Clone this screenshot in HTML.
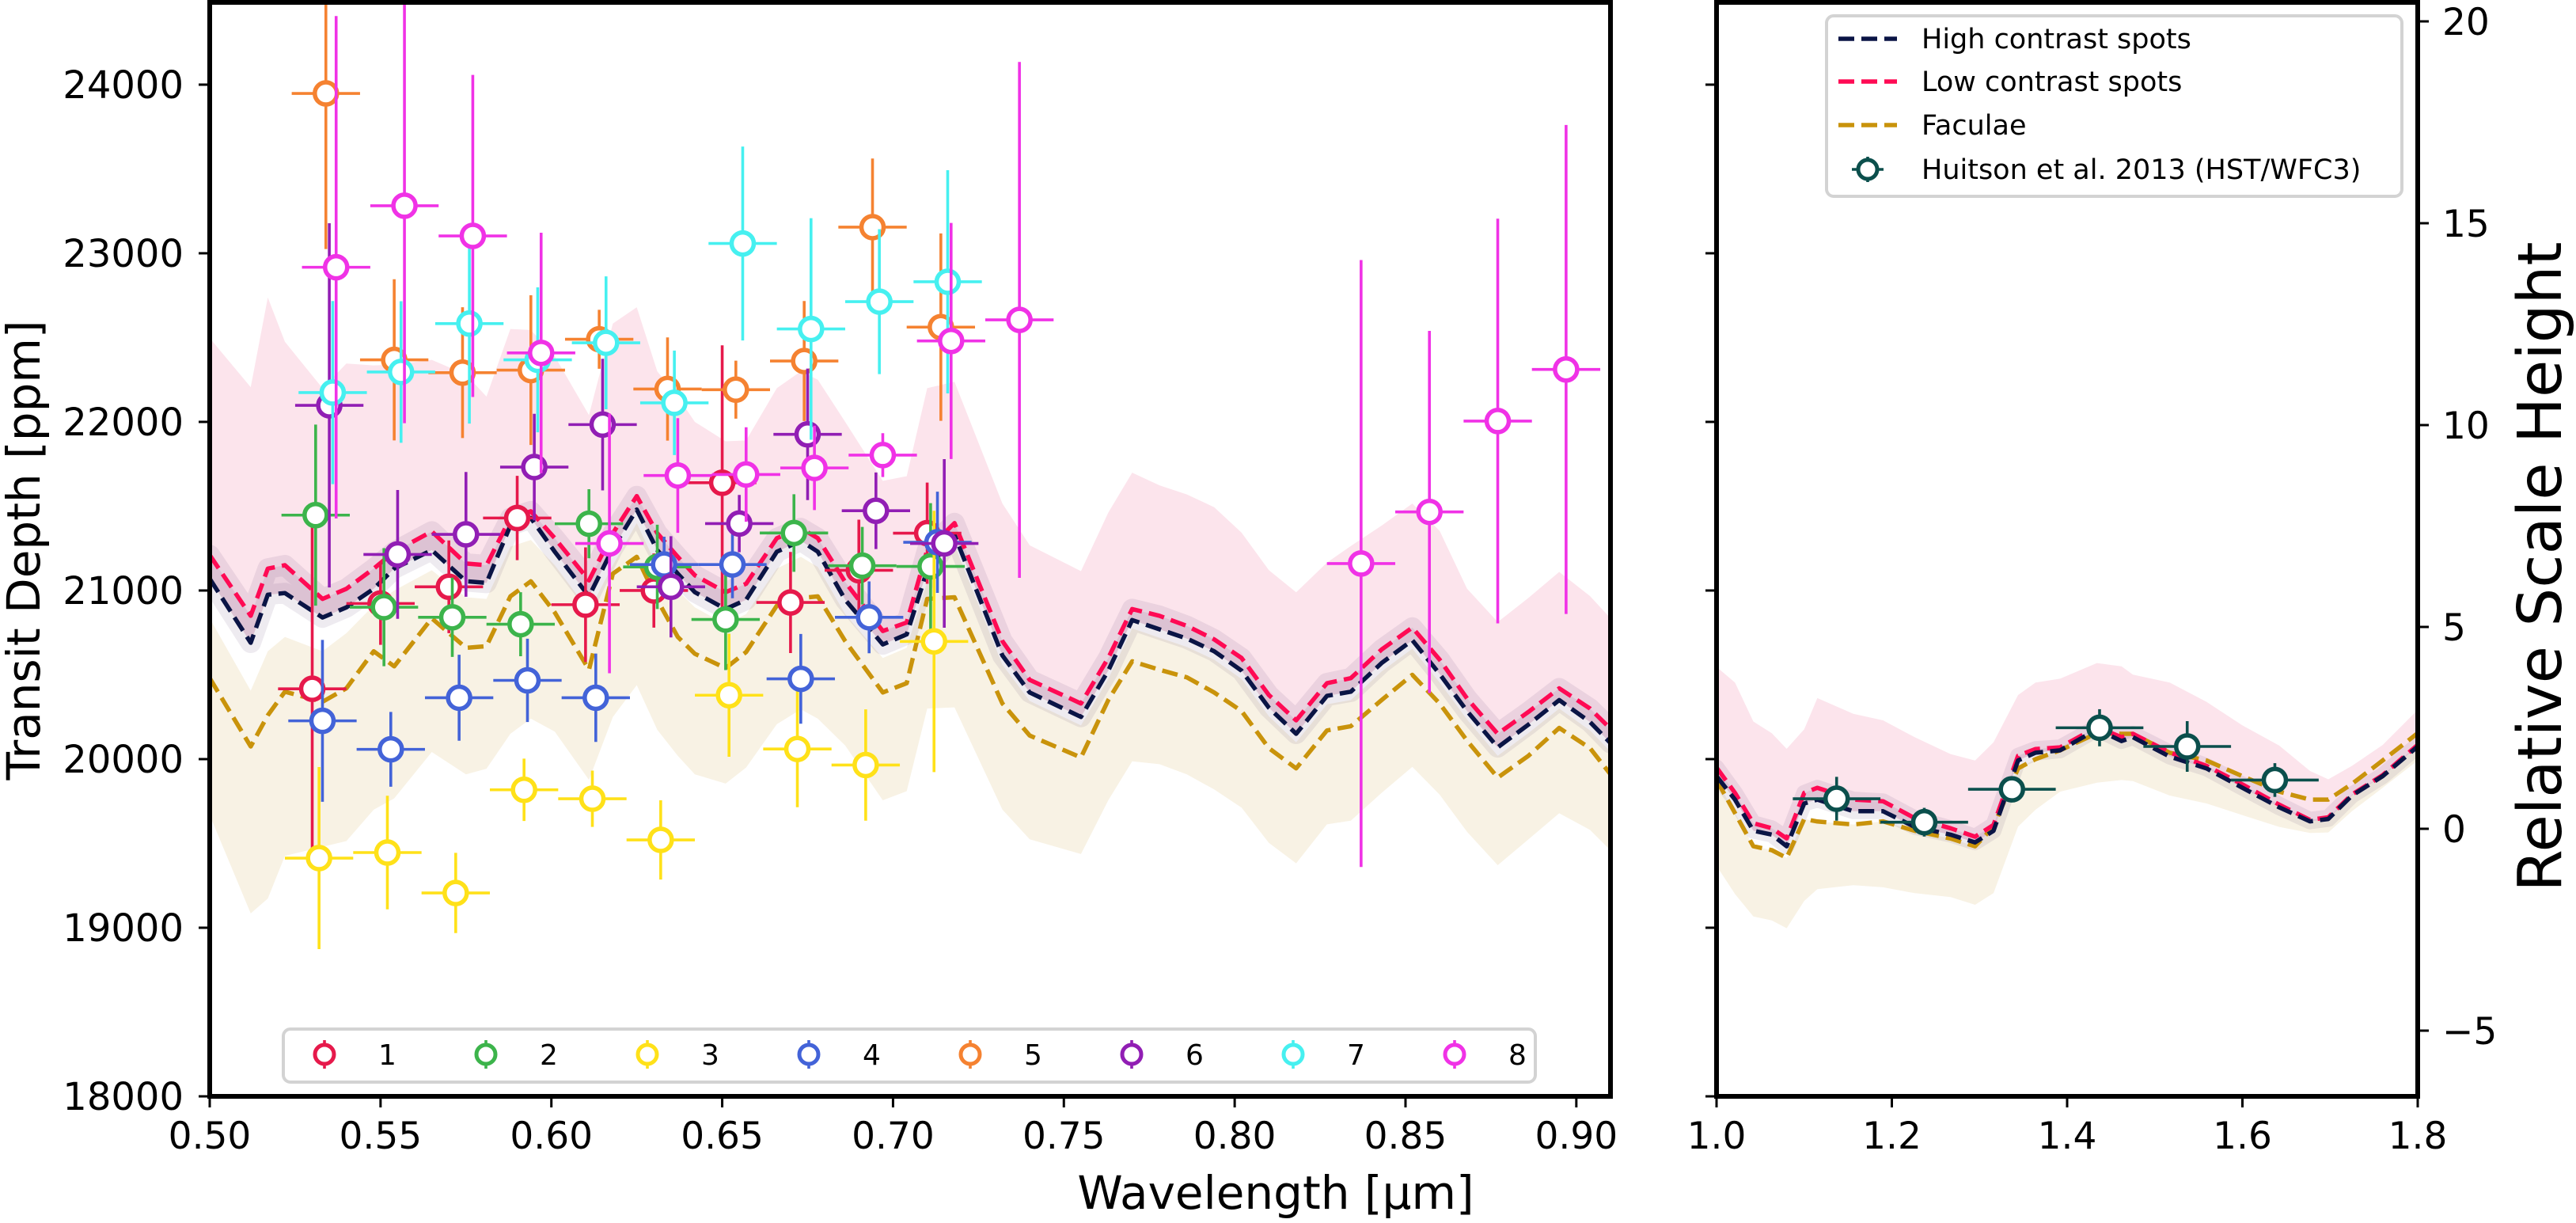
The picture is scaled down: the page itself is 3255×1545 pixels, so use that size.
<!DOCTYPE html>
<html><head><meta charset="utf-8"><style>
html,body{margin:0;padding:0;background:#fff}
svg{display:block}
text{font-family:"DejaVu Sans","Liberation Sans",sans-serif;fill:#000}
</style></head><body>
<svg id="fig" width="3255" height="1545" viewBox="0 0 3255 1545" xmlns="http://www.w3.org/2000/svg">
<defs>
<clipPath id="clipL"><rect x="265" y="3" width="1770" height="1382"/></clipPath>
<clipPath id="clipR"><rect x="2169" y="3" width="886" height="1382"/></clipPath>
</defs>
<rect x="0" y="0" width="3255" height="1545" fill="#fff"/>
<g id="left-plot" clip-path="url(#clipL)"></g>
<g id="right-plot" clip-path="url(#clipR)"></g>
<g id="axes"></g>
</svg>
<script>
// ---- left panel model grid & values (ppm) ----
const lamL=[0.500,0.512,0.517,0.522,0.533,0.540,0.548,0.554,0.565,0.575,0.581,0.588,0.594,0.601,0.611,0.618,0.625,0.631,0.637,0.642,0.651,0.657,0.666,0.673,0.678,0.686,0.697,0.704,0.710,0.718,0.732,0.740,0.755,0.763,0.770,0.778,0.786,0.794,0.802,0.810,0.818,0.827,0.834,0.843,0.852,0.860,0.868,0.877,0.886,0.895,0.904,0.910];
const highL=[21070,20690,20975,20985,20840,20900,21010,21130,21240,21055,21045,21385,21430,21230,20965,21250,21480,21240,21100,20990,20890,20945,21230,21295,21230,20945,20680,20740,21120,21330,20615,20395,20250,20525,20825,20770,20715,20640,20525,20305,20150,20375,20400,20570,20705,20505,20285,20070,20205,20350,20220,20095];
const lowL=[21210,20850,21130,21150,20950,21010,21130,21230,21350,21160,21150,21430,21470,21310,21060,21340,21560,21340,21200,21090,20990,21040,21310,21370,21310,21050,20760,20810,21240,21400,20700,20470,20330,20600,20890,20850,20790,20710,20600,20380,20230,20450,20480,20650,20780,20590,20360,20150,20280,20420,20300,20180];
const facL=[20480,20075,20260,20400,20340,20420,20640,20550,20835,20660,20670,20965,21055,20870,20530,21100,21200,20945,20725,20625,20540,20635,20910,20955,20965,20700,20395,20450,20950,20960,20330,20140,20010,20350,20580,20530,20485,20395,20285,20065,19945,20170,20195,20350,20500,20330,20110,19890,20020,20185,20065,19910];
const pinkHiL=[22497,22206,22738,22475,22200,22346,22335,22340,22368,22281,22150,22551,22545,22389,22040,22583,22680,22300,22150,22000,21885,21890,22200,22300,22250,22000,21650,21678,22200,22238,21516,21268,21115,21462,21699,21624,21570,21494,21343,21121,20989,21165,21264,21385,21516,21354,21011,20813,20956,21110,20967,20835];
const beigeHiL=[20835,20406,20640,20725,20640,20747,20912,21000,21120,20960,20950,21260,21300,21150,20879,21150,21400,21140,21000,20900,20800,20860,21130,21200,21140,20860,20600,20660,21050,21270,20560,20345,20200,20475,20775,20720,20665,20590,20475,20255,20100,20325,20350,20520,20655,20455,20235,20020,20155,20300,20170,20045];
const beigeLoL=[19668,19085,19173,19426,19480,19514,19700,19767,20042,19910,19943,20150,20240,20163,19877,20250,20439,20174,20020,19910,19855,19950,20207,20295,20240,20080,19756,19810,20300,20307,19701,19525,19437,19756,19987,19970,19910,19820,19712,19503,19382,19613,19635,19800,19954,19789,19569,19371,19525,19679,19580,19459];
// ---- right panel model grid & values (ppm) ----
const lamR=[1.000,1.021,1.042,1.063,1.080,1.100,1.115,1.156,1.190,1.226,1.267,1.295,1.316,1.344,1.364,1.392,1.434,1.462,1.475,1.517,1.559,1.600,1.642,1.677,1.698,1.725,1.760,1.800];
const highR=[19899,19760,19575,19552,19483,19737,19760,19691,19691,19598,19552,19506,19575,19992,20038,20052,20177,20107,20130,20015,19945,19830,19714,19631,19645,19784,19899,20075];
const lowR=[19950,19800,19620,19590,19530,19800,19830,19760,19750,19650,19590,19540,19610,20020,20060,20070,20190,20130,20150,20040,19960,19850,19730,19640,19655,19790,19905,20085];
const facR=[19876,19680,19483,19460,19414,19645,19630,19612,19631,19575,19529,19483,19599,19945,20000,20052,20154,20150,20150,20038,19992,19899,19807,19760,19760,19853,19992,20154];
const pinkHiR=[20547,20454,20223,20154,20061,20177,20362,20269,20230,20130,20030,19992,20100,20380,20454,20477,20570,20550,20501,20454,20340,20200,20080,19930,19880,19960,20084,20292];
const beigeLoR=[19367,19200,19067,19043,18997,19159,19229,19252,19240,19205,19182,19136,19205,19600,19700,19807,19860,19876,19870,19784,19737,19668,19598,19562,19565,19691,19830,19992];
// ---- observed data ----
const s1Lam=[0.530,0.550,0.570,0.590,0.610,0.630,0.650,0.670,0.690,0.710];
const s1Depth=[20417,20923,21022,21430,20916,21000,21639,20929,21120,21340];
const s1Err=[960,245,275,250,340,220,815,300,300,300];
const s2Lam=[0.531,0.551,0.571,0.591,0.611,0.631,0.651,0.671,0.691,0.711];
const s2Depth=[21447,20901,20841,20800,21396,21140,20828,21341,21147,21143];
const s2Err=[537,350,235,190,205,250,300,230,230,375];
const s3Lam=[0.532,0.552,0.572,0.592,0.612,0.632,0.652,0.672,0.692,0.712];
const s3Depth=[19413,19446,19206,19818,19765,19521,20379,20060,19965,20698];
const s3Err=[540,337,238,185,167,235,365,345,330,775];
const s4Lam=[0.533,0.553,0.573,0.593,0.613,0.633,0.653,0.673,0.693,0.713];
const s4Depth=[20227,20058,20364,20467,20364,21154,21154,20476,20841,21286];
const s4Err=[480,222,255,247,262,165,200,266,213,300];
const s5Lam=[0.534,0.554,0.574,0.594,0.614,0.634,0.654,0.674,0.694,0.714];
const s5Depth=[23948,22368,22292,22307,22490,22195,22191,22361,23155,22562];
const s5Err=[923,478,388,444,175,306,172,356,407,556];
const s6Lam=[0.535,0.555,0.575,0.595,0.615,0.635,0.655,0.675,0.695,0.715];
const s6Depth=[22098,21214,21333,21732,21984,21022,21397,21926,21473,21279];
const s6Err=[1080,382,370,316,390,300,170,390,227,500];
const s7Lam=[0.536,0.556,0.576,0.596,0.616,0.636,0.656,0.676,0.696,0.716];
const s7Depth=[22174,22296,22583,22368,22469,22113,23058,22551,22713,22831];
const s7Err=[543,420,593,430,394,310,575,657,430,662];
const s8Lam=[0.537,0.557,0.577,0.597,0.617,0.637,0.657,0.677,0.697,0.717,0.737,0.837,0.857,0.877,0.897];
const s8Depth=[22917,23282,23103,22409,21279,21682,21688,21727,21803,22480,22605,21160,21466,22005,22311];
const s8Err=[1490,1290,955,713,770,340,280,250,130,700,1530,1800,1074,1200,1450];
const hLam=[1.137,1.237,1.337,1.437,1.537,1.637];
const hDepth=[19765,19626,19821,20186,20075,19876];
const hErr=[130,85,60,110,150,100];
// ---- ticks ----
const yTicks=[18000,19000,20000,21000,22000,23000,24000];
const xTicksL=[0.50,0.55,0.60,0.65,0.70,0.75,0.80,0.85,0.90];
const xTickLabelsL=["0.50","0.55","0.60","0.65","0.70","0.75","0.80","0.85","0.90"];
const xTicksR=[1.0,1.2,1.4,1.6,1.8];
const xTickLabelsR=["1.0","1.2","1.4","1.6","1.8"];
const shTicks=[-5,0,5,10,15,20];
const shTickLabels=["\u22125","0","5","10","15","20"];

const NS="http://www.w3.org/2000/svg";
const yTop=3,yBot=1385,yMin=18000,yMax=24488;
function yPx(v){return yBot-(v-yMin)/(yMax-yMin)*(yBot-yTop);}
const L0=265,L1=2035,lamMinL=0.5,lamMaxL=0.91;
function xL(l){return L0+(l-lamMinL)/(lamMaxL-lamMinL)*(L1-L0);}
const R0=2169,R1=3055,lamMinR=1.0,lamMaxR=1.8;
function xR(l){return R0+(l-lamMinR)/(lamMaxR-lamMinR)*(R1-R0);}
function shPx(s){return 1047-s*51;}
function mk(tag,attrs,parent){const e=document.createElementNS(NS,tag);for(const k in attrs)e.setAttribute(k,attrs[k]);parent.appendChild(e);return e;}
function pts(xs,ys,fx){return xs.map((l,i)=>fx(l).toFixed(1)+","+yPx(ys[i]).toFixed(1));}
function band(parent,xs,lo,hi,fx,fill,name){
  const p=pts(xs,hi,fx).concat(pts(xs,lo,fx).reverse());
  const e=mk('polygon',{points:p.join(' '),fill:fill,stroke:'none'},parent);
  
  
  return e;
}
function line(parent,xs,ys,fx,color,name){
  const e=mk('polyline',{points:pts(xs,ys,fx).join(' '),fill:'none',stroke:color,'stroke-width':5.5,'stroke-dasharray':'20 9','stroke-linejoin':'round'},parent);
  
  
}
function series(parent,lams,ds,es,hw,fx,color,name){
  const g=mk('g',{},parent);
  
  
  lams.forEach((l,i)=>{
    const cx=fx(l),cy=yPx(ds[i]);
    mk('line',{x1:fx(l-hw),x2:fx(l+hw),y1:cy,y2:cy,stroke:color,'stroke-width':3.6},g);
    mk('line',{x1:cx,x2:cx,y1:yPx(ds[i]+es[i]),y2:yPx(ds[i]-es[i]),stroke:color,'stroke-width':3.6},g);
    const c=mk('circle',{cx:cx,cy:cy,r:14,fill:'#fff',stroke:color,'stroke-width':5.5},g);
    
    
  });
}
const C1='#e6194b',C2='#3cb44b',C3='#ffe119',C4='#4363d8',C5='#f58231',C6='#911eb4',C7='#46f0f0',C8='#f032e6';
const NAVY='#0a1445',RED='#ff0a54',GOLD='#c9930b',TEAL='#0b4f4c';
const LP=document.getElementById('left-plot'),RP=document.getElementById('right-plot'),AX=document.getElementById('axes');
// left bands
band(LP,lamL,beigeLoL,beigeHiL,xL,'#f8f2e4','faculae-band');
band(LP,lamL,highL,pinkHiL,xL,'#fce4ec','low-contrast-band');
const ov=band(LP,lamL,highL,lowL,xL,'rgba(90,60,110,0.10)','high-contrast-band');
ov.setAttribute('stroke','rgba(90,60,110,0.10)');ov.setAttribute('stroke-width','26');ov.setAttribute('stroke-linejoin','round');
line(LP,lamL,facL,xL,GOLD,'faculae-line');
line(LP,lamL,lowL,xL,RED,'low-contrast-line');
line(LP,lamL,highL,xL,NAVY,'high-contrast-line');
series(LP,s1Lam,s1Depth,s1Err,0.01,xL,C1,'series-1');
series(LP,s2Lam,s2Depth,s2Err,0.01,xL,C2,'series-2');
series(LP,s3Lam,s3Depth,s3Err,0.01,xL,C3,'series-3');
series(LP,s4Lam,s4Depth,s4Err,0.01,xL,C4,'series-4');
series(LP,s5Lam,s5Depth,s5Err,0.01,xL,C5,'series-5');
series(LP,s6Lam,s6Depth,s6Err,0.01,xL,C6,'series-6');
series(LP,s7Lam,s7Depth,s7Err,0.01,xL,C7,'series-7');
series(LP,s8Lam,s8Depth,s8Err,0.01,xL,C8,'series-8');
// right bands
band(RP,lamR,beigeLoR,facR,xR,'#f8f2e4','faculae-band-right');
band(RP,lamR,highR,pinkHiR,xR,'#fce4ec','low-contrast-band-right');
const ov2=band(RP,lamR,highR,lowR,xR,'rgba(90,60,110,0.10)','high-contrast-band-right');
ov2.setAttribute('stroke','rgba(90,60,110,0.10)');ov2.setAttribute('stroke-width','20');ov2.setAttribute('stroke-linejoin','round');
line(RP,lamR,facR,xR,GOLD,'faculae-line-right');
line(RP,lamR,lowR,xR,RED,'low-contrast-line-right');
line(RP,lamR,highR,xR,NAVY,'high-contrast-line-right');
series(RP,hLam,hDepth,hErr,0.05,xR,TEAL,'huitson-data');

// frames
function rect(x,y,w,h,name){const e=mk('rect',{x:x,y:y,width:w,height:h,fill:'none',stroke:'#000','stroke-width':6},AX);}
rect(L0,yTop,L1-L0,yBot-yTop,'left-frame');
rect(R0,yTop,R1-R0,yBot-yTop,'right-frame');
function txt(x,y,s,size,anchor,name,extra){const e=mk('text',Object.assign({x:x,y:y,'font-size':size,'text-anchor':anchor},extra||{}),AX);e.textContent=s;return e;}
// y ticks left & right-panel left
yTicks.forEach(v=>{
  const y=yPx(v);
  mk('line',{x1:L0-14,x2:L0,y1:y,y2:y,stroke:'#000','stroke-width':3},AX);
  mk('line',{x1:R0-14,x2:R0,y1:y,y2:y,stroke:'#000','stroke-width':3},AX);
  txt(232,y+17,String(v),48,'end','y-tick-label');
});
xTicksL.forEach((v,i)=>{
  const x=xL(v);
  mk('line',{x1:x,x2:x,y1:yBot,y2:yBot+14,stroke:'#000','stroke-width':3},AX);
  txt(x,1451,xTickLabelsL[i],47,'middle','x-tick-label');
});
xTicksR.forEach((v,i)=>{
  const x=xR(v);
  mk('line',{x1:x,x2:x,y1:yBot,y2:yBot+14,stroke:'#000','stroke-width':3},AX);
  txt(x,1451,xTickLabelsR[i],47,'middle','x-tick-label-right');
});
shTicks.forEach((v,i)=>{
  const y=shPx(v);
  mk('line',{x1:R1,x2:R1+14,y1:y,y2:y,stroke:'#000','stroke-width':3},AX);
  txt(3086,y+17,shTickLabels[i],47,'start','scale-height-tick-label');
});
txt(1612,1527,'Wavelength [\u03bcm]',58,'middle','x-axis-title');
txt(0,0,'Transit Depth [ppm]',58,'middle','y-axis-title',{transform:'translate(50,695) rotate(-90)'});
txt(0,0,'Relative Scale Height',77,'middle','right-axis-title',{transform:'translate(3236,716) rotate(-90)'});

// left legend
const lg=mk('g',{},AX);


mk('rect',{x:358,y:1300,width:1582,height:67,rx:9,fill:'rgba(255,255,255,0.85)',stroke:'#d3d3d3','stroke-width':4},lg);
const legCols=[C1,C2,C3,C4,C5,C6,C7,C8];
const legLabels=["1","2","3","4","5","6","7","8"];
legCols.forEach((c,i)=>{
  const cx=410+204*i,cy=1332;
  mk('line',{x1:cx,x2:cx,y1:cy-18,y2:cy+18,stroke:c,'stroke-width':3.6},lg);
  const m=mk('circle',{cx:cx,cy:cy,r:12,fill:'#fff',stroke:c,'stroke-width':5},lg);
  
  
  const t=mk('text',{x:478,y:cy+13,'font-size':36},lg);
  t.setAttribute('x',478+204*i);
  t.textContent=legLabels[i];
  
  
});
// right legend
const rg=mk('g',{},AX);


mk('rect',{x:2308,y:20,width:727,height:228,rx:9,fill:'rgba(255,255,255,0.85)',stroke:'#d3d3d3','stroke-width':4},rg);
const legNames=["High contrast spots","Low contrast spots","Faculae","Huitson et al. 2013 (HST/WFC3)"];
const legColors=[NAVY,RED,GOLD,TEAL];
const legY=[49,103,158,214];
legNames.forEach((n,i)=>{
  const y=legY[i];
  if(i<3){mk('line',{x1:2323,x2:2397,y1:y,y2:y,stroke:legColors[i],'stroke-width':5.5,'stroke-dasharray':'20 9'},rg);}
  else{
    mk('line',{x1:2360,x2:2360,y1:y-16,y2:y+16,stroke:TEAL,'stroke-width':3.6},rg);
    mk('line',{x1:2340,x2:2380,y1:y,y2:y,stroke:TEAL,'stroke-width':3.6},rg);
    mk('circle',{cx:2360,cy:y,r:12,fill:'#fff',stroke:TEAL,'stroke-width':5},rg);
  }
  const t=mk('text',{x:2428,y:y+12,'font-size':35},rg);
  t.textContent=n;
  
  
});
</script>
</body></html>
